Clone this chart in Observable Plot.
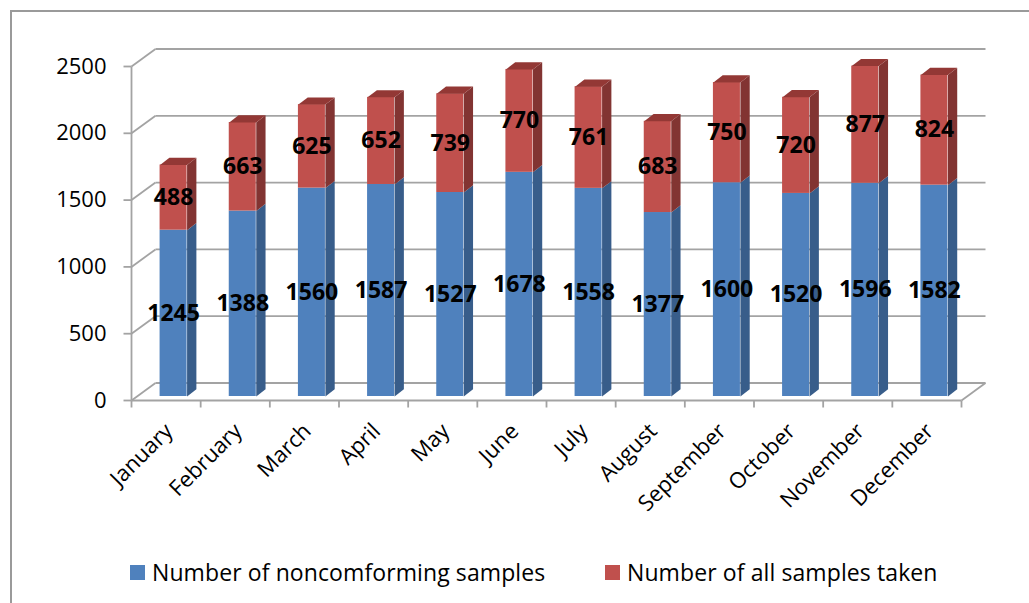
<!DOCTYPE html>
<html>
<head>
<meta charset="utf-8">
<script src="https://cdn.jsdelivr.net/npm/d3@7"></script>
<script src="https://cdn.jsdelivr.net/npm/@observablehq/plot@0.6"></script>
<style>
  html, body { margin: 0; padding: 0; background: #fff; }
  #wrap { position: relative; width: 1029px; height: 603px; overflow: hidden; font-family: "Open Sans", sans-serif; }
  #frame { position: absolute; left: 10px; top: 10px; width: 1100px; height: 700px; border-left: 2px solid #9a9a9a; border-top: 2px solid #9a9a9a; }
  #chart { position: absolute; left: 0; top: 0; }
  .leg { position: absolute; top: 556px; display: flex; align-items: center; font-size: 23px; color: #000; white-space: nowrap; letter-spacing: 0.1px; }
  .sw { width: 15px; height: 15px; margin-right: 7px; }
</style>
</head>
<body>
<div id="wrap">
  <div id="frame"></div>
  <div id="chart"></div>
  <div class="leg" id="leg1" style="left:130px"></div>
  <div class="leg" id="leg2" style="left:605px"></div>
</div>
<script>
const months = ["January","February","March","April","May","June","July","August","September","October","November","December"];
const noncomforming = [1245,1388,1560,1587,1527,1678,1558,1377,1600,1520,1596,1582];
const allSamples = [488,663,625,652,739,770,761,683,750,720,877,824];
const yTicks = [0,500,1000,1500,2000,2500];
const seriesNames = ["Number of noncomforming samples","Number of all samples taken"];
const colors = {blueFront:"#4f81bd", blueSide:"#385d8a", redFront:"#c0504d", redSide:"#823432", redTop:"#933835"};

const W = 1029, H = 545, mL = 131, mR = 68, mT = 66, mB = 145;
const kx = (W - mL - mR) / months.length;
const ky = (H - mT - mB) / 2500;
const wX = 24 / kx, wY = 17.5 / ky;
const hw = 13.5 / kx, dX = 9.3 / kx, dY = 7.2 / ky;
const barDx = 7.5, barDy = -4;
const grid = "#a3a3a3";

const segs = [];
months.forEach((m, i) => {
  segs.push({i, s: 0, y1: 0, y2: noncomforming[i], v: noncomforming[i]});
  segs.push({i, s: 1, y1: noncomforming[i], y2: noncomforming[i] + allSamples[i], v: allSamples[i]});
});
function sideFace(d) {
  const xr = d.i + 0.5 + hw, id = d.i + "-" + d.s;
  return [
    {id, x: xr, y: d.y1},
    {id, x: xr, y: d.y2},
    {id, x: xr + dX, y: d.y2 + dY},
    {id, x: xr + dX, y: d.y1 + dY}
  ];
}
function topFace(d) {
  const xl = d.i + 0.5 - hw, xr = d.i + 0.5 + hw, id = "t" + d.i;
  return [
    {id, x: xl, y: d.y2},
    {id, x: xr, y: d.y2},
    {id, x: xr + dX, y: d.y2 + dY},
    {id, x: xl + dX, y: d.y2 + dY}
  ];
}
const blueSides = segs.filter(d => d.s === 0).flatMap(sideFace);
const redSides = segs.filter(d => d.s === 1).flatMap(sideFace);
const redTops = segs.filter(d => d.s === 1).flatMap(topFace);
const idx = d3.range(months.length + 1);

const plot = Plot.plot({
  width: W, height: H,
  marginLeft: mL, marginRight: mR, marginTop: mT, marginBottom: mB,
  x: {type: "linear", domain: [0, months.length], axis: null},
  y: {domain: [0, 2500], axis: null},
  style: {fontFamily: "Open Sans, sans-serif", background: "transparent", overflow: "visible"},
  marks: [
    Plot.link(yTicks, {x1: wX, x2: months.length + wX, y1: v => v + wY, y2: v => v + wY, stroke: grid, strokeWidth: 1.8}),
    Plot.link(yTicks, {x1: 0, y1: v => v, x2: wX, y2: v => v + wY, stroke: grid, strokeWidth: 1.8}),
    Plot.link([0], {x1: months.length, y1: 0, x2: months.length + wX, y2: wY, stroke: grid, strokeWidth: 1.8}),
    Plot.link([0], {x1: 0, y1: 0, x2: months.length, y2: 0, stroke: grid, strokeWidth: 1.8}),
    Plot.link([0], {x1: 0, y1: 0, x2: 0, y2: 2500, stroke: grid, strokeWidth: 1.8}),
    Plot.link(idx, {x1: d => d, x2: d => d, y1: 0, y2: -7 / ky, stroke: grid, strokeWidth: 1.8}),
    Plot.link(yTicks, {x1: 0, x2: -8 / kx, y1: v => v, y2: v => v, stroke: grid, strokeWidth: 1.8}),
    Plot.text(yTicks, {x: 0, y: v => v, text: v => String(v), dx: -25, textAnchor: "end", fontSize: 22, fill: "#000"}),
    Plot.rect(segs, {x1: d => d.i + 0.5 - hw, x2: d => d.i + 0.5 + hw, y1: "y1", y2: "y2",
      fill: d => d.s === 0 ? colors.blueFront : colors.redFront, dx: barDx, dy: barDy}),
    Plot.line(blueSides, {x: "x", y: "y", z: "id", fill: colors.blueSide, stroke: "none", dx: barDx, dy: barDy}),
    Plot.line(redSides, {x: "x", y: "y", z: "id", fill: colors.redSide, stroke: "none", dx: barDx, dy: barDy}),
    Plot.line(redTops, {x: "x", y: "y", z: "id", fill: colors.redTop, stroke: "none", dx: barDx, dy: barDy}),
    Plot.text(segs, {x: d => d.i + 0.5, y: d => (d.y1 + d.y2) / 2, text: d => String(d.v), dx: barDx, dy: barDy,
      fontSize: 23, fontWeight: "bold", fill: "#000"}),
    Plot.text(months, {x: (d, i) => i + 0.5, y: 0, text: d => d, rotate: -45, textAnchor: "end",
      dx: 3, dy: 27, fontSize: 22, fill: "#000"})
  ]
});
document.getElementById("chart").appendChild(plot);

const legEls = [document.getElementById("leg1"), document.getElementById("leg2")];
const legCols = [colors.blueFront, colors.redFront];
legEls.forEach((el, k) => {
  const sw = document.createElement("span"); sw.className = "sw"; sw.style.background = legCols[k];
  const t = document.createElement("span"); t.textContent = seriesNames[k];
  el.appendChild(sw); el.appendChild(t);
});
</script>
</body>
</html>
